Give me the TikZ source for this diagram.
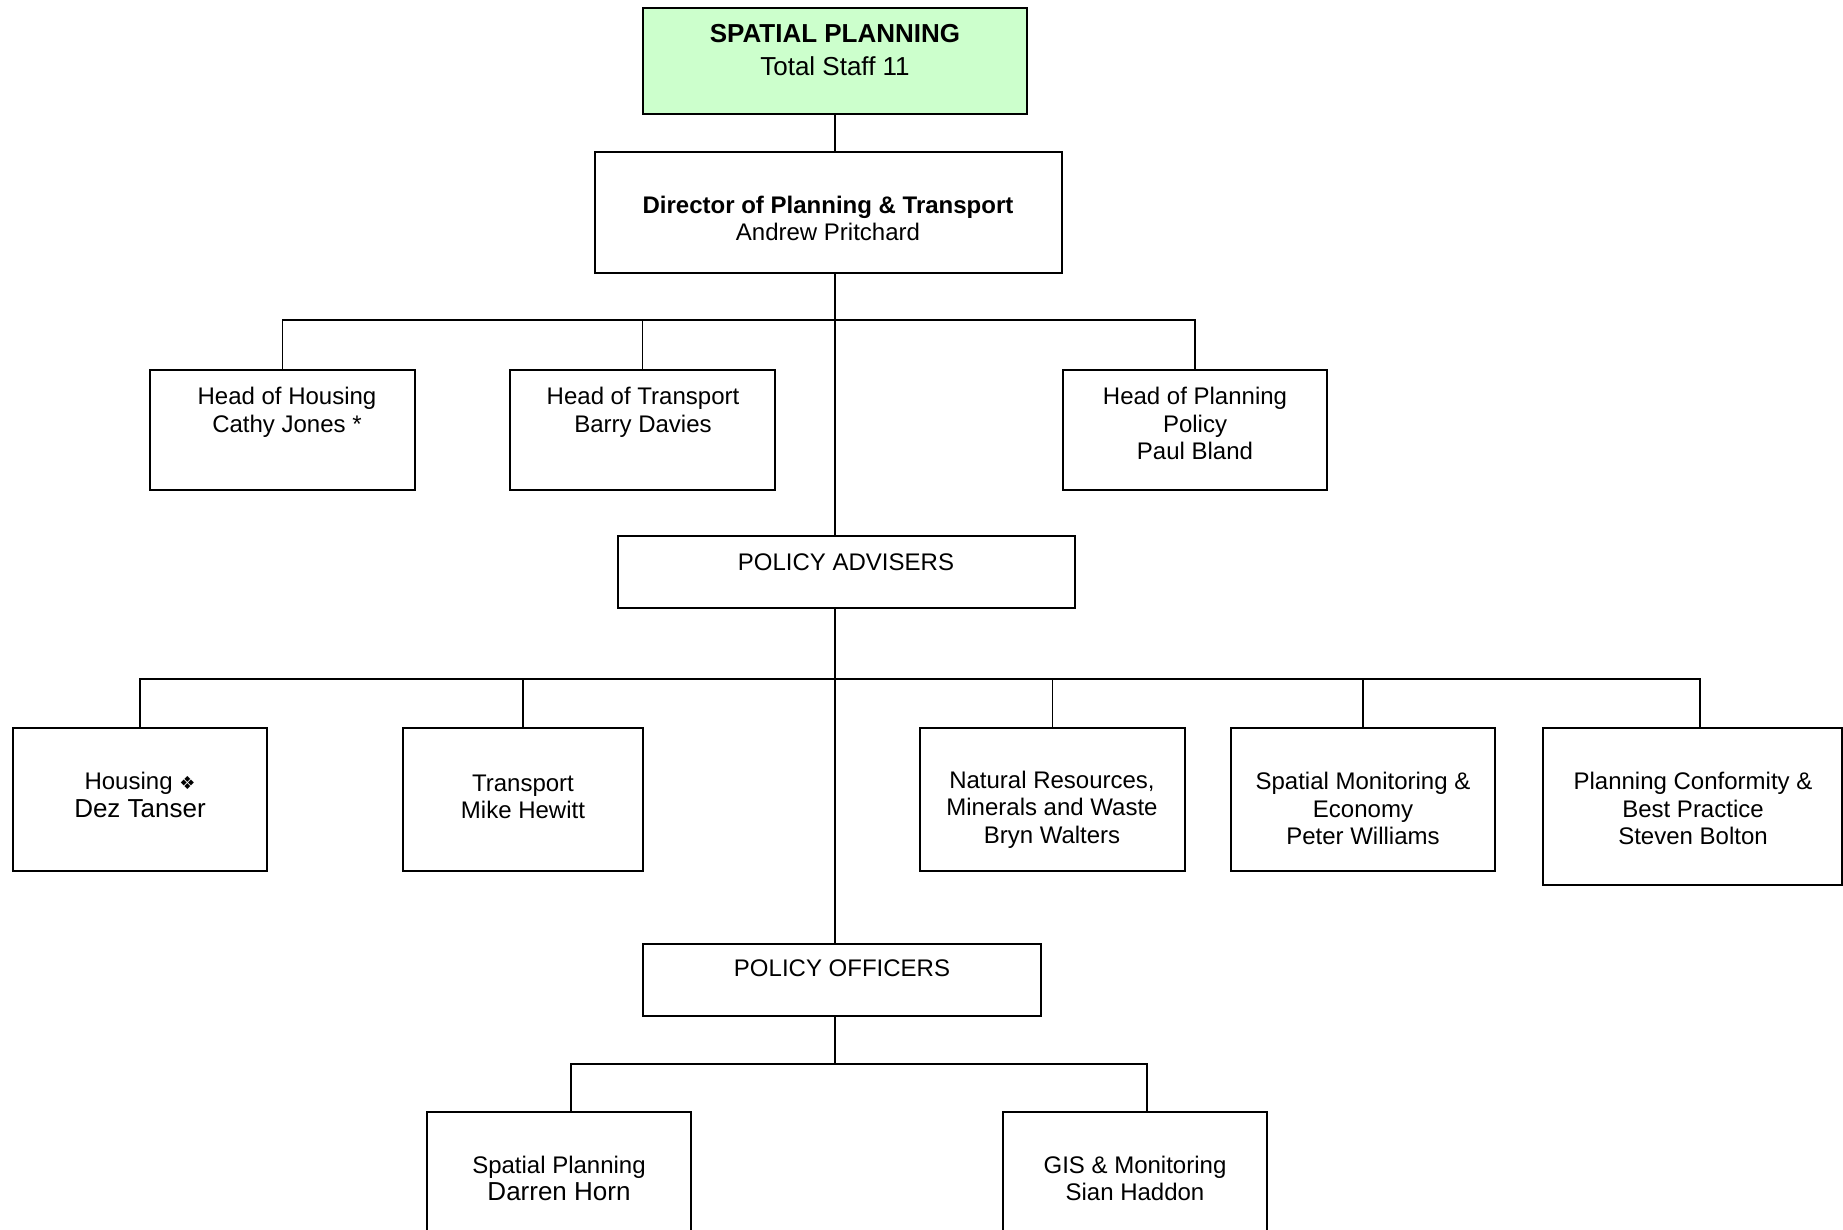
\documentclass[tikz,border=0pt]{standalone}
\usepackage{fontspec}
\setmainfont{Liberation Sans}
\newfontfamily\symfont{DejaVu Sans}
\usepackage{tikz}
\usetikzlibrary{positioning}
\definecolor{topgreen}{HTML}{CCFFCC}
\tikzset{box/.style={draw=black, line width=0.9pt, rectangle, inner sep=0pt, outer sep=0pt},
         txt/.style={align=center, inner sep=0pt, font=\fontsize{12}{13.8}\selectfont},
         link/.style={draw=black, line width=0.75pt}}

\begin{document}
\begin{tikzpicture}[x=0.5pt, y=-0.5pt]
   \useasboundingbox (0,0) rectangle (1843,1230);
   \clip (0,0) rectangle (1843,1230);
   % top of the chart
   \node[box, fill=topgreen, minimum width=192pt, minimum height=53pt] (top) at (835,61) {};
   \node[txt, font=\fontsize{13}{16.5}\selectfont] (top-t) at (835,50.5) {\textbf{SPATIAL PLANNING}\\Total Staff 11};
   \node[box, minimum width=233.5pt, minimum height=60.5pt] (dir) at (828.5,212.5) {};
   \node[txt] (dir-t) at (828,218.5) {\textbf{Director of Planning \& Transport}\\Andrew Pritchard};
   % heads
   \begin{scope}
    \node[box, minimum width=132.5pt, minimum height=60pt] (hhous)  at ( 282.5,430) {};
    \node[box, minimum width=132.5pt, minimum height=60pt] (htrans) at ( 642.5,430) {};
    \node[box, minimum width=132pt,   minimum height=60pt] (hplan)  at (1195,430) {};
    \node[txt] (hhous-t)  at ( 287,412.5) {Head of Housing\\Cathy Jones *};
    \node[txt] (htrans-t) at ( 643,412.5) {Head of Transport\\Barry Davies};
    \node[txt] (hplan-t)  at (1195,423.5) {Head of Planning\\Policy\\Paul Bland};
   \end{scope}
   \node[box, minimum width=228.5pt, minimum height=36pt] (padv) at (846.5,572) {};
   \node[txt] (padv-t) at (846,562) {POLICY ADVISERS};
   % advisers
   \begin{scope}
    \node[box, minimum width=127pt,   minimum height=71.5pt] (ahous)  at ( 140,799.5) {};
    \node[box, minimum width=120pt,   minimum height=71.5pt] (atrans) at ( 523,799.5) {};
    \node[box, minimum width=132.5pt, minimum height=71.5pt] (anat)   at (1052.5,799.5) {};
    \node[box, minimum width=132pt,   minimum height=71.5pt] (amon)   at (1363,799.5) {};
    \node[box, minimum width=149.5pt, minimum height=78.5pt] (aconf)  at (1692.5,806.5) {};
    \node[txt] (ahous-t)  at ( 140,795) {Housing {\symfont\fontsize{9}{10}\selectfont ❖}\\{\fontsize{13}{15}\selectfont Dez Tanser}};
    \node[txt] (atrans-t) at ( 523,797) {Transport\\Mike Hewitt};
    \node[txt] (anat-t)   at (1052,809.5) {Natural Resources,\\Minerals and Waste\\Bryn Walters};
    \node[txt] (amon-t)   at (1363,808.5) {Spatial Monitoring \&\\Economy\\Peter Williams};
    \node[txt] (aconf-t)  at (1693,808.5) {Planning Conformity \&\\Best Practice\\Steven Bolton};
   \end{scope}
   \node[box, minimum width=199pt, minimum height=36pt] (poff) at (842,980) {};
   \node[txt] (poff-t) at (842,968) {POLICY OFFICERS};
   % officers
   \node[box, minimum width=132pt, minimum height=69pt] (ospat) at ( 559,1181) {};
   \node[box, minimum width=132pt, minimum height=69pt] (ogis)  at (1135,1181) {};
   \node[txt] (ospat-t) at ( 559,1178.5) {Spatial Planning\\{\fontsize{13}{15}\selectfont Darren Horn}};
   \node[txt] (ogis-t)  at (1135,1178.5) {GIS \& Monitoring\\Sian Haddon};
   % connectors
   \draw[link] (top.south) -- (top.south |- dir.north);
   \draw[link] (top.south |- dir.south) -- (top.south |- padv.north);
   \draw[link] (hhous.north) -- ++(0,-50) -| (hplan.north);
   \draw[link] (htrans.north) -- ++(0,-50);
   \draw[link] (top.south |- padv.south) -- (top.south |- poff.north);
   \draw[link] (ahous.north) -- ++(0,-49) -| ([xshift=3.75pt]aconf.north);
   \draw[link] (atrans.north) -- ++(0,-49);
   \draw[link] (anat.north) -- ++(0,-49);
   \draw[link] (amon.north) -- ++(0,-49);
   \draw[link] (top.south |- poff.south) -- ++(0,48);
   \draw[link] ([xshift=6pt]ospat.north) -- ++(0,-48) -| ([xshift=6pt]ogis.north);
\end{tikzpicture}
\end{document}
